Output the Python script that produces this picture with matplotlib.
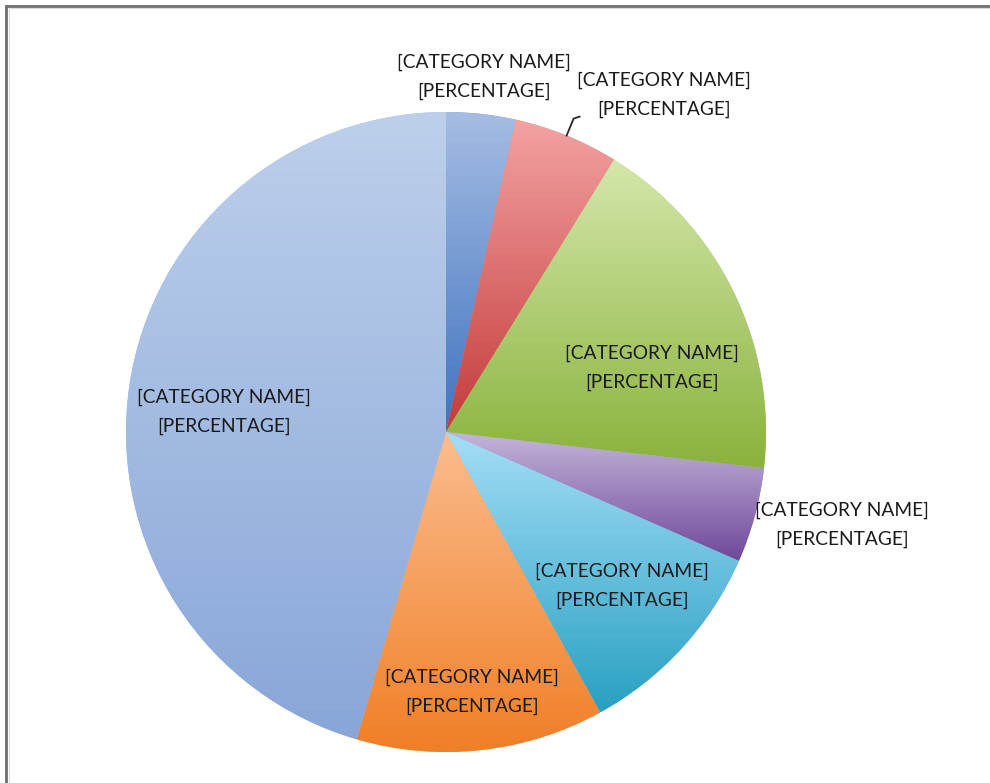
import numpy as np
import matplotlib
matplotlib.use("Agg")
import matplotlib.pyplot as plt
from matplotlib.colors import to_rgb
from matplotlib.patches import Rectangle

# slice shares (percent), clockwise from 12 o'clock
shares = [3.5, 5.3, 18.0, 4.8, 10.4, 12.5, 45.5]
labels = ["[CATEGORY NAME]\n[PERCENTAGE]"] * 7

# gradient fills: light top -> saturated bottom
tops = ["#a6bde3", "#f3a2a2", "#d4e7aa", "#c4b5da", "#a5def7", "#fbbd8f", "#bdd0eb"]
bottoms = ["#3f73c0", "#c43b3b", "#8ab23c", "#6f489a", "#28a0c2", "#f07f26", "#88a6d8"]

# label anchor points (pixels, from top-left)
label_x = [484, 664, 652, 842, 622, 472, 224]
label_y = [77, 95, 368, 525, 586, 692, 412]

W, H = 990, 783
cx, cy, R = 446, H - 432, 320

fig = plt.figure(figsize=(W / 100, H / 100), dpi=100)
ax = fig.add_axes([0, 0, 1, 1])

wedges, _ = ax.pie(shares, startangle=90, counterclock=False,
                   center=(cx, cy), radius=R,
                   wedgeprops=dict(linewidth=0))

for w, ct, cb in zip(wedges, tops, bottoms):
    x0, y0, x1, y1 = w.get_path().get_extents().extents
    t = np.linspace(0, 1, 256)[:, None, None]
    arr = (1 - t) * np.array(to_rgb(ct)) + t * np.array(to_rgb(cb))
    w.set_facecolor(tuple(0.5 * (np.array(to_rgb(ct)) + np.array(to_rgb(cb)))))
    im = ax.imshow(arr, extent=(x0, x1, y0, y1), aspect="auto",
                   interpolation="bilinear", zorder=2)
    im.set_clip_path(w)

for lab, lx, ly in zip(labels, label_x, label_y):
    ax.text(lx, H - ly, lab, ha="center", va="center", fontsize=13.8,
            family=["Lato", "DejaVu Sans"], color="#1a1a1a",
            linespacing=1.85, zorder=5)

# leader line for the small red slice
a0 = 90 - 360 * sum(shares[:1]) / 100
a1 = 90 - 360 * sum(shares[:2]) / 100
mid = np.deg2rad((a0 + a1) / 2)
px, py = cx + R * np.cos(mid), cy + R * np.sin(mid)
ax.plot([px, px + 7, px + 13], [py, py + 17, py + 19],
        color="#262626", lw=1.3, zorder=5)

# outer frame
fig.patches.append(Rectangle((6 / W, -0.1), 1.2, (H - 6) / H + 0.1,
                             transform=fig.transFigure, fill=False,
                             edgecolor="#6e6e6e", lw=2))
fig.patches.append(Rectangle((8.5 / W, -0.1), 1.2, (H - 8.5) / H + 0.1,
                             transform=fig.transFigure, fill=False,
                             edgecolor="#dcdcdc", lw=0.8))

ax.set_xlim(0, W)
ax.set_ylim(0, H)
ax.set_aspect("equal")
ax.axis("off")

fig.savefig("out.png", dpi=100)
